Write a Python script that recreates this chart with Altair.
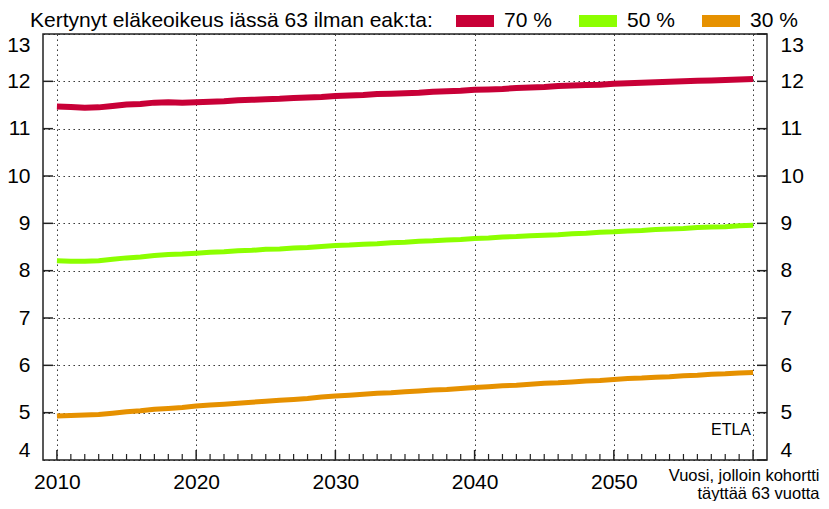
import altair as alt
import pandas as pd

# ---- data ----
years = list(range(2010, 2061))
v70 = [11.47, 11.46, 11.44, 11.45, 11.48, 11.51, 11.52, 11.55, 11.56, 11.55, 11.56,
       11.57, 11.58, 11.60, 11.61, 11.62, 11.63, 11.65, 11.66, 11.67, 11.69,
       11.70, 11.71, 11.73, 11.74, 11.75, 11.76, 11.78, 11.79, 11.80, 11.82,
       11.83, 11.84, 11.86, 11.87, 11.88, 11.90, 11.91, 11.92, 11.93, 11.95,
       11.96, 11.97, 11.98, 11.99, 12.00, 12.01, 12.02, 12.03, 12.04, 12.05]
v50 = [8.21, 8.20, 8.20, 8.21, 8.24, 8.27, 8.29, 8.32, 8.34, 8.35, 8.37,
       8.39, 8.40, 8.42, 8.43, 8.45, 8.46, 8.48, 8.49, 8.51, 8.53,
       8.54, 8.56, 8.57, 8.59, 8.60, 8.62, 8.63, 8.65, 8.66, 8.68,
       8.69, 8.71, 8.72, 8.74, 8.75, 8.76, 8.78, 8.79, 8.81, 8.82,
       8.84, 8.85, 8.87, 8.88, 8.89, 8.91, 8.92, 8.93, 8.95, 8.96]
v30 = [4.93, 4.94, 4.95, 4.96, 4.99, 5.02, 5.04, 5.07, 5.09, 5.11, 5.14,
       5.16, 5.18, 5.20, 5.22, 5.24, 5.26, 5.28, 5.30, 5.33, 5.35,
       5.37, 5.39, 5.41, 5.42, 5.44, 5.46, 5.48, 5.49, 5.51, 5.53,
       5.55, 5.57, 5.58, 5.60, 5.62, 5.63, 5.65, 5.67, 5.68, 5.70,
       5.72, 5.73, 5.75, 5.76, 5.78, 5.79, 5.81, 5.82, 5.84, 5.85]
series_names = ["70 %", "50 %", "30 %"]
series_colors = ["#C80037", "#8CFF00", "#E69100"]
series_widths = [6, 5, 5]
x_major = [2010, 2020, 2030, 2040, 2050, 2060]
x_minor = [y for y in years if y not in x_major]
y_labels = list(range(4, 14))
y_ticks = list(range(5, 13))
legend_title = "Kertynyt eläkeoikeus iässä 63 ilman eak:ta:"
x_title = ["Vuosi, jolloin kohortti", "täyttää 63 vuotta"]
note = ["ETLA"]

rows = []
for name, vals in zip(series_names, [v70, v50, v30]):
    for yr, v in zip(years, vals):
        rows.append({"vuosi": yr, "arvo": v, "sarja": name})
df = pd.DataFrame(rows)

W, H = 724, 426
FONT = "Liberation Sans"
FS = 21
GRID = dict(gridColor="#222222", gridDash=[1.4, 3.6], gridWidth=1, gridOpacity=1)

xscale = alt.Scale(domain=[2009, 2061], nice=False, zero=False)
yscale = alt.Scale(domain=[4, 13], nice=False, zero=False)
cscale = alt.Scale(domain=series_names, range=series_colors)

xaxis = alt.Axis(values=x_major, format="d",
                 labelExpr="datum.value == 2060 ? '' : datum.label",
                 ticks=False, domain=False, grid=True, **GRID,
                 labelFontSize=FS, labelFont=FONT, labelColor="black",
                 labelPadding=11, labelFlush=False, labelOverlap=False,
                 title=x_title, titleAnchor="end", titleAlign="right",
                 titleX=776, titleY=20, titleBaseline="alphabetic",
                 titleFontSize=16.5, titleFontWeight="normal", titleFont=FONT,
                 titleColor="black", titleLineHeight=18)
yaxis = alt.Axis(values=y_labels, ticks=False, domain=False, grid=True, **GRID,
                 labelFontSize=FS, labelFont=FONT, labelColor="black",
                 labelPadding=13, title=None, labelFlush=True, labelFlushOffset=0,
                 labelOverlap=False)
yaxis_r = alt.Axis(orient="right", values=y_labels, ticks=False, domain=False,
                   grid=False, labelFontSize=FS, labelFont=FONT, labelColor="black",
                   labelPadding=13, title=None, labelFlush=True, labelFlushOffset=0,
                   labelOverlap=False)

legend = alt.Legend(title=legend_title, orient="none", legendX=-13, legendY=-38,
                    direction="horizontal", titleOrient="left",
                    symbolType="stroke", symbolSize=1444, symbolStrokeWidth=12,
                    labelOffset=4, columnPadding=3, titlePadding=17, padding=0,
                    labelFontSize=FS, labelFont=FONT, labelColor="black",
                    titleFontSize=FS, titleFont=FONT, titleColor="black",
                    titleFontWeight="normal", titleLimit=600)

lines = []
for name, w in zip(series_names, series_widths):
    lines.append(
        alt.Chart(df).transform_filter(alt.datum.sarja == name)
        .mark_line(strokeWidth=w, strokeCap="butt", strokeJoin="round")
        .encode(x=alt.X("vuosi:Q", scale=xscale, axis=xaxis),
                y=alt.Y("arvo:Q", scale=yscale, axis=yaxis),
                color=alt.Color("sarja:N", scale=cscale, legend=legend))
    )

left_ticks = alt.Chart(pd.DataFrame({"t": y_ticks})).mark_rule(color="#222222", strokeWidth=1.5).encode(
    y=alt.Y("t:Q", scale=yscale, axis=yaxis), x=alt.value(0), x2=alt.value(10))
right_ticks = alt.Chart(pd.DataFrame({"t": y_labels})).mark_rule(color="#222222", strokeWidth=1.5).encode(
    y=alt.Y("t:Q", scale=yscale, axis=yaxis_r), x=alt.value(W - 10), x2=alt.value(W))
xmaj = alt.Chart(pd.DataFrame({"vuosi": x_major})).mark_rule(color="#222222", strokeWidth=1.5).encode(
    x=alt.X("vuosi:Q", scale=xscale, axis=xaxis), y=alt.value(H), y2=alt.value(H - 10))
xmin = alt.Chart(pd.DataFrame({"vuosi": x_minor})).mark_rule(color="#222222", strokeWidth=1.2).encode(
    x=alt.X("vuosi:Q", scale=xscale, axis=xaxis), y=alt.value(H), y2=alt.value(H - 6))
etla = alt.Chart(pd.DataFrame({"t": note})).mark_text(
    align="right", baseline="alphabetic", fontSize=16, font=FONT, color="black").encode(
    x=alt.value(708), y=alt.value(401), text="t:N")

base = alt.layer(*lines, left_ticks, xmaj, xmin, etla)
chart = alt.layer(base, right_ticks).resolve_scale(y="independent").properties(
    width=W, height=H,
    autosize=alt.AutoSizeParams(type="none"),
    padding={"left": 35, "top": 26, "right": 54, "bottom": 41},
    background="white",
).configure_view(stroke="#222222", strokeWidth=1.5)

chart.save("out.html", embed_options={"renderer": "svg", "actions": False})
